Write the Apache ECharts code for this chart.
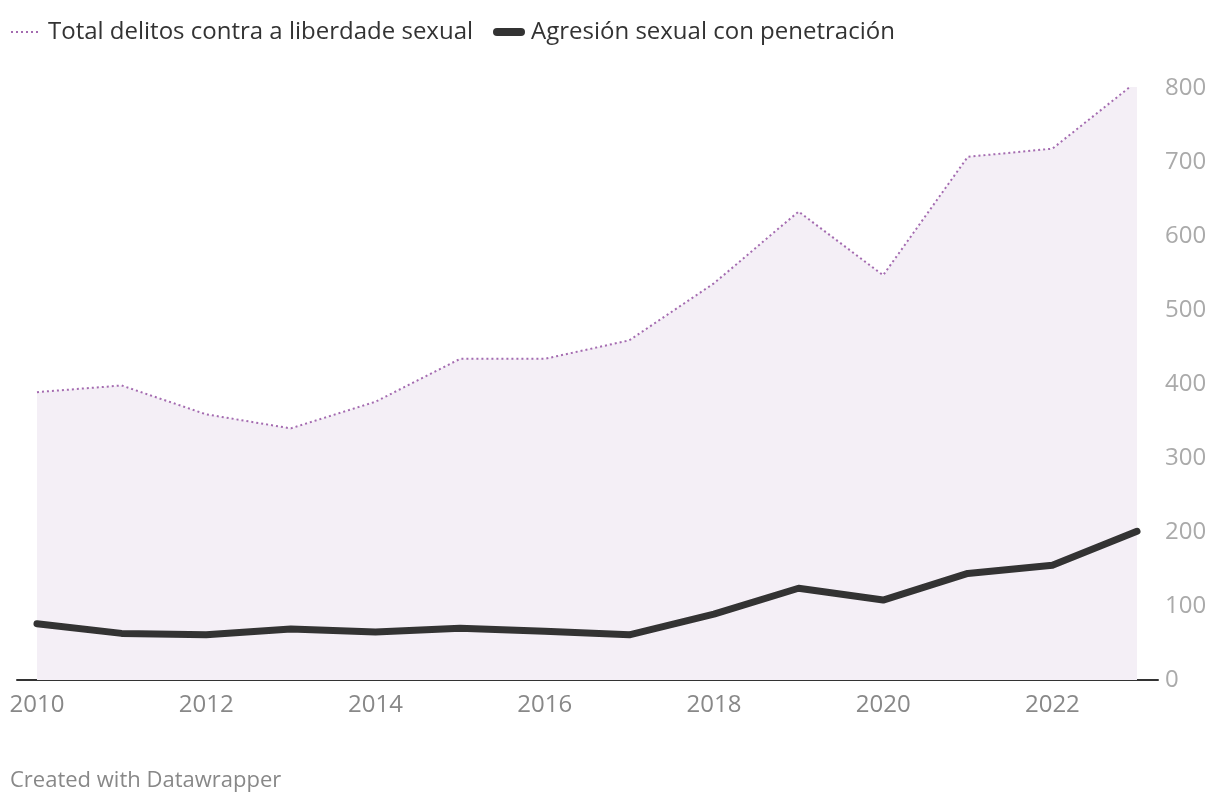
<!DOCTYPE html>
<html><head><meta charset="utf-8">
<script src="https://cdn.jsdelivr.net/npm/echarts@6/dist/echarts.min.js"></script>
<style>html,body{margin:0;padding:0;background:#fff}#c{width:1220px;height:806px}</style>
</head><body><div id="c"></div>
<script>
const years = [2010,2011,2012,2013,2014,2015,2016,2017,2018,2019,2020,2021,2022,2023];
const totalDelitos = [389,398,359,340,376,434,434,459,536,633,547,707,718,809];
const agresion = [76,63,61,69,65,70,66,61,89,124,108,144,155,201];
const xTicks = [2010,2012,2014,2016,2018,2020,2022];
const yTicks = [0,100,200,300,400,500,600,700,800];
const names = ['Total delitos contra a liberdade sexual','Agresión sexual con penetración'];

const chart = echarts.init(document.getElementById('c'));
const font = '"Open Sans", "Noto Sans", sans-serif';
chart.setOption({
  animation: false,
  textStyle: {fontFamily: font},
  legend: [
    {
      left: 10, top: 20, padding: 0, itemWidth: 28, itemHeight: 24,
      textStyle: {fontSize: 24, color: '#333', fontFamily: font, padding: [0,0,0,4]},
      data: [{name: names[0], itemStyle: {opacity: 0}, lineStyle: {width: 2, type: [2,3], color: '#a46bb0'}}]
    },
    {
      left: 493, top: 20, padding: 0, itemWidth: 24, itemHeight: 24,
      textStyle: {fontSize: 24, color: '#333', fontFamily: font, padding: [0,0,0,5]},
      data: [{name: names[1], itemStyle: {opacity: 0}, lineStyle: {width: 8, cap: 'round', color: '#333'}}]
    }
  ],
  grid: {left: 17, right: 62, top: 88, bottom: 126, containLabel: false},
  xAxis: {
    type: 'value', min: 2009.764, max: 2023.248,
    axisLine: {show: true, lineStyle: {color: '#333', width: 2}},
    axisTick: {show: false},
    splitLine: {show: false},
    axisLabel: {customValues: xTicks, color: '#888', fontSize: 24, margin: 13, fontFamily: font,
      formatter: v => String(v)}
  },
  yAxis: {
    type: 'value', position: 'right', min: 0, max: 800, interval: 100,
    axisLine: {show: false}, axisTick: {show: false}, splitLine: {show: false},
    axisLabel: {customValues: yTicks, color: '#aaa', fontSize: 24, margin: 7, fontFamily: font,
      formatter: v => String(v)}
  },
  series: [
    {
      name: names[0], type: 'line', symbol: 'none',
      data: years.map((y,i)=>[y,totalDelitos[i]]),
      lineStyle: {color: '#a46bb0', width: 2, type: [2,3]},
      itemStyle: {color: '#a46bb0'},
      areaStyle: {color: '#f4eff6', opacity: 1},
      z: 2
    },
    {
      name: names[1], type: 'line', symbol: 'none',
      data: years.map((y,i)=>[y,agresion[i]]),
      lineStyle: {color: '#333', width: 7, cap: 'round', join: 'round'},
      itemStyle: {color: '#333'},
      z: 3
    }
  ],
  graphic: [{
    type: 'text', left: 10, top: 770,
    style: {text: 'Created with Datawrapper', fill: '#888', fontSize: 22, fontFamily: font}
  }]
});
</script></body></html>
